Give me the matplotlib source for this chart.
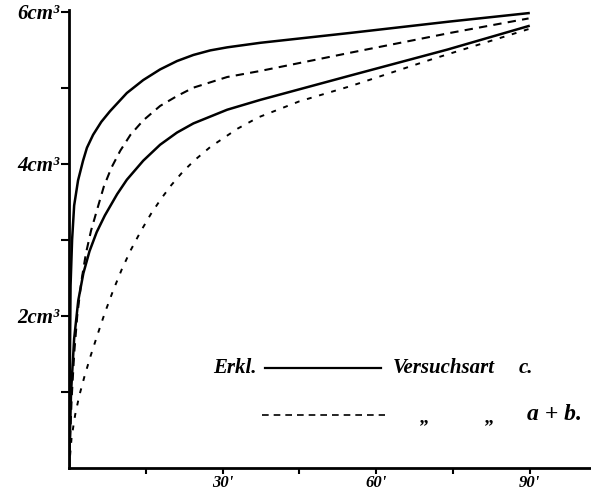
import matplotlib.pyplot as plt

# Volume (cm3) against time (minutes)
upper_solid_t = [0, 0.3, 0.6, 1.0, 1.76, 2.74, 3.5, 4.7, 6.3, 8.0, 11.3, 14.5, 17.8, 21.1, 24.3, 27.6, 30.9, 37.4, 55, 74.5, 89.8]
upper_solid_v = [0, 2.4, 3.0, 3.45, 3.78, 4.04, 4.21, 4.38, 4.55, 4.69, 4.93, 5.10, 5.24, 5.35, 5.43, 5.49, 5.53, 5.59, 5.72, 5.87, 5.98]

upper_dash_t = [0, 0.5, 1.0, 1.6, 2.4, 3.3, 4.3, 5.5, 6.8, 8.3, 10.0, 12.0, 14.5, 17.8, 21.1, 24.3, 30.9, 37.4, 55, 74.5, 89.8]
upper_dash_v = [0, 0.9, 1.5, 2.0, 2.45, 2.82, 3.12, 3.40, 3.70, 3.95, 4.17, 4.38, 4.57, 4.76, 4.89, 5.00, 5.14, 5.22, 5.46, 5.72, 5.91]

lower_solid_t = [0, 0.4, 1.0, 1.8, 2.8, 4.0, 5.4, 7.0, 9.4, 11.3, 14.5, 17.8, 21.1, 24.3, 30.9, 37.4, 55, 73.9, 89.8]
lower_solid_v = [0, 1.0, 1.7, 2.2, 2.56, 2.85, 3.10, 3.32, 3.60, 3.79, 4.04, 4.25, 4.41, 4.53, 4.71, 4.84, 5.16, 5.50, 5.81]

lower_dash_t = [0, 0.5, 1.2, 2.0, 3.0, 4.2, 5.5, 7.0, 8.6, 10.3, 12.1, 14.0, 16.0, 18.0, 20.0, 22.3, 24.6, 27.6, 32.9, 37, 45, 55, 71.2, 89.8]
lower_dash_v = [0, 0.4, 0.7, 0.95, 1.2, 1.47, 1.74, 2.04, 2.33, 2.61, 2.87, 3.11, 3.34, 3.54, 3.72, 3.90, 4.05, 4.22, 4.46, 4.61, 4.82, 5.02, 5.38, 5.77]

x_ticks = [15, 30, 45, 60, 75, 90]
x_labels = ["", "30'", "", "60'", "", "90'"]
y_ticks = [1, 2, 3, 4, 5, 6]
y_labels = ["", "2cm³", "", "4cm³", "", "6cm³"]

font = {"family": "Liberation Serif", "style": "italic", "weight": "bold"}

fig = plt.figure(figsize=(5.91, 4.94), dpi=100)
ax = fig.add_axes([0.1168, 0.0526, 0.8832, 0.927])

ax.plot(upper_solid_t, upper_solid_v, color="black", lw=1.8, solid_joinstyle="round")
ax.plot(lower_solid_t, lower_solid_v, color="black", lw=1.8, solid_joinstyle="round")
ax.plot(upper_dash_t, upper_dash_v, color="black", lw=1.5, dashes=(4, 3))
ax.plot(lower_dash_t, lower_dash_v, color="black", lw=1.4, dashes=(2.5, 4))

ax.set_xlim(0, 102)
ax.set_ylim(0, 6.02)
for s in ["top", "right"]:
    ax.spines[s].set_visible(False)
for s in ["left", "bottom"]:
    ax.spines[s].set_linewidth(2)

ax.set_xticks(x_ticks)
ax.set_xticklabels(x_labels, fontdict=font, fontsize=12)
ax.set_yticks(y_ticks)
ax.set_yticklabels(y_labels, fontdict=font, fontsize=15)
ax.tick_params(axis="x", direction="out", length=4, width=1.5, pad=1)
ax.tick_params(axis="y", direction="out", length=6, width=1.5, pad=1)

# hand-drawn key
ax.text(0.318, 0.218, "Erkl.", transform=ax.transAxes, ha="center", va="center", fontsize=15, **font)
ax.plot([0.375, 0.598], [0.218, 0.218], transform=ax.transAxes, color="black", lw=1.6)
ax.text(0.621, 0.218, "Versuchsart", transform=ax.transAxes, ha="left", va="center", fontsize=15, **font)
ax.text(0.862, 0.218, "c.", transform=ax.transAxes, ha="left", va="center", fontsize=15, **font)
ax.plot([0.370, 0.605], [0.116, 0.116], transform=ax.transAxes, color="black", lw=1.2, dashes=(4, 3))
ax.text(0.682, 0.11, "„", transform=ax.transAxes, ha="center", va="center", fontsize=14, **font)
ax.text(0.807, 0.11, "„", transform=ax.transAxes, ha="center", va="center", fontsize=14, **font)
ax.text(0.877, 0.116, "a + b.", transform=ax.transAxes, ha="left", va="center", fontsize=17, **font)

fig.savefig("out.png", dpi=100)
